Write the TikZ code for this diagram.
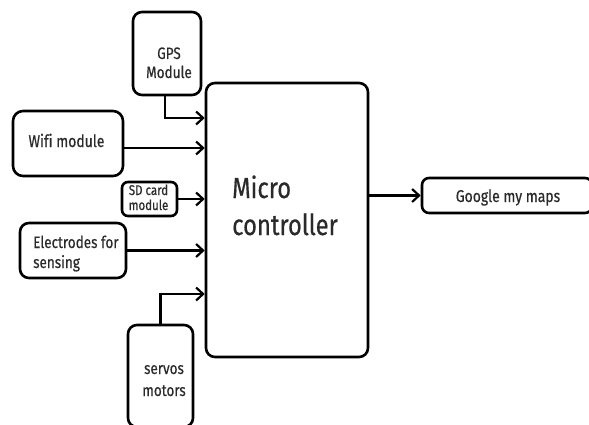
\documentclass[tikz,border=0pt]{standalone}
\usepackage{fontspec}
\setmainfont{Fira Sans}[FakeStretch=0.82,FakeBold=0.5,Ligatures=NoCommon]
\usetikzlibrary{arrows.meta}
\definecolor{ink}{HTML}{2A2A2A}
\begin{document}
\begin{tikzpicture}[x=1pt,y=-1pt,
  blk/.style={draw=black, line width=2.6pt, rectangle, rounded corners=#1, inner sep=0pt},
  blk/.default=8pt,
  lbl/.style={text=ink, inner sep=0pt, anchor=base},
  link/.style={line width=2.2pt, -{Straight Barb[length=7pt,width=13pt,line width=2.2pt]}}]
  \fill[white] (0,0) rectangle (589,425);
  \useasboundingbox (0,0) rectangle (589,425);

  % blocks
  \node[blk=9pt, minimum width=162pt, minimum height=274pt] (mc) at (287,220) {};
  \node[blk=9pt, minimum width=68pt, minimum height=83pt] (gps) at (167,53.5) {};
  \node[blk=10pt, minimum width=110pt, minimum height=65pt] (wifi) at (68,143.5) {};
  \node[blk=6pt, minimum width=55pt, minimum height=34pt] (sd) at (149.5,199) {};
  \node[blk=9pt, minimum width=106pt, minimum height=55pt] (elec) at (73,250.5) {};
  \node[blk=9pt, minimum width=65pt, minimum height=102pt] (servo) at (160.5,376) {};
  \node[blk=7pt, minimum width=170pt, minimum height=35pt] (maps) at (507,195.5) {};

  % labels
  \node[lbl, anchor=base west, font=\fontsize{29}{35}\selectfont] (mc1) at (232,198) {Micro};
  \node[lbl, anchor=base west, font=\fontsize{29}{35}\selectfont] (mc2) at (232,235) {controller};
  \node[lbl, font=\fontsize{16.5}{19}\selectfont] (gps1) at (169,59) {GPS};
  \node[lbl, font=\fontsize{16.5}{19}\selectfont] (gps2) at (169,78) {Module};
  \node[lbl, font=\fontsize{17}{20}\selectfont] (wifi1) at (66.5,147) {Wifi module};
  \node[lbl, font=\fontsize{14}{15}\selectfont] (sd1) at (148.5,195) {SD card};
  \node[lbl, font=\fontsize{14}{15}\selectfont] (sd2) at (148.5,210) {module};
  \node[lbl, anchor=base west, font=\fontsize{16.5}{20}\selectfont] (el1) at (33,248) {Electrodes for};
  \node[lbl, anchor=base west, font=\fontsize{16.5}{20}\selectfont] (el2) at (33,268) {sensing};
  \node[lbl, font=\fontsize{16.5}{22}\selectfont] (sv1) at (164,374) {servos};
  \node[lbl, font=\fontsize{16.5}{22}\selectfont] (sv2) at (164,396) {motors};
  \node[lbl, font=\fontsize{17}{20}\selectfont] (mp1) at (508,202) {Google my maps};

  % connectors into the controller
  \draw[link] ([xshift=-2pt]gps.south) |- ([yshift=102pt]mc.west);
  \draw[link] ([yshift=-4.5pt]wifi.east) -- ([yshift=-4.5pt]wifi.east -| mc.west);
  \draw[link] (sd.east) -- (sd.east -| mc.west);
  \draw[link] (elec.east) -- (elec.east -| mc.west);
  \draw[link] (servo.north) |- ([yshift=-74pt]mc.west);
  % connector out of the controller
  \draw[link] (maps.west -| mc.east) -- (maps.west);
\end{tikzpicture}
\end{document}
